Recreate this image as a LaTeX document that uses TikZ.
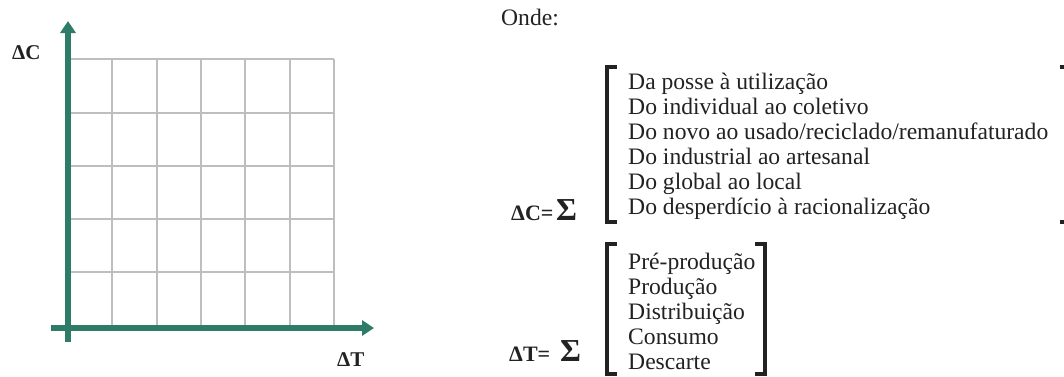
\documentclass[tikz,border=0pt]{standalone}
\usepackage{fontspec}
\setmainfont{Liberation Serif}
\usetikzlibrary{arrows.meta}
\definecolor{axisgreen}{HTML}{2E7B68}
\definecolor{gridgray}{HTML}{BEBEBE}
\definecolor{ink}{HTML}{222222}
\tikzset{
  gridline/.style={draw=gridgray, line width=2pt},
  axisline/.style={draw=axisgreen, line width=6pt, -{Triangle[width=15pt,length=12pt]}},
  axislabel/.style={font=\fontsize{21}{21}\selectfont\bfseries, text=ink, inner sep=0pt},
  itemtext/.style={font=\fontsize{23.6}{25}\selectfont, text=ink, inner sep=0pt, anchor=base west},
  eqlabel/.style={font=\fontsize{22}{22}\selectfont\bfseries, text=ink, inner sep=0pt, anchor=base west},
  sigma/.style={font=\fontsize{32}{32}\selectfont\bfseries, text=ink, inner sep=0pt, anchor=base west},
  bracketline/.style={draw=ink, line width=3.2pt, line join=miter, line cap=butt},
}
\begin{document}
\begin{tikzpicture}[x=1pt,y=-1pt]
\useasboundingbox (0,0) rectangle (1064,376);
\clip (0,0) rectangle (1064,376);
% grid
\foreach \i in {1,...,6} {
  \draw[gridline] ({68+44.33*\i},59.3) -- ({68+44.33*\i},328);
}
\foreach \j in {0,...,4} {
  \draw[gridline] (68,{59.3+53.2*\j}) -- (334,{59.3+53.2*\j});
}
% axes
\coordinate (ybot) at (68,342);
\coordinate (ytip) at (68,21);
\coordinate (xleft) at (51,328);
\coordinate (xtip) at (374,328);
\draw[axisline] (ybot) -- (ytip);
\draw[axisline] (xleft) -- (xtip);
\node[axislabel, anchor=west] (dc) at (12,53) {ΔC};
\node[axislabel, anchor=west] (dt) at (337,360) {ΔT};
% Onde
\node[itemtext] (onde) at (501,25) {Onde:};
% group C
\node[itemtext] (c1) at (628,89) {Da posse à utilização};
\node[itemtext] (c2) at (628,114) {Do individual ao coletivo};
\node[itemtext] (c3) at (628,139) {Do novo ao usado/reciclado/remanufaturado};
\node[itemtext] (c4) at (628,164) {Do industrial ao artesanal};
\node[itemtext] (c5) at (628,189) {Do global ao local};
\node[itemtext] (c6) at (628,214) {Do desperdício à racionalização};
\node[eqlabel] (ceq) at (511,220) {ΔC=};
\node[sigma] (csig) at (556,220) {Σ};
\draw[bracketline] (617,67) -- (607,67) -- (607,222) -- (617,222);
\draw[bracketline] (1060,67) -- (1066,67) -- (1066,222) -- (1060,222);
% group T
\node[itemtext] (t1) at (628,269) {Pré-produção};
\node[itemtext] (t2) at (628,294) {Produção};
\node[itemtext] (t3) at (628,319) {Distribuição};
\node[itemtext] (t4) at (628,344) {Consumo};
\node[itemtext] (t5) at (628,369) {Descarte};
\node[eqlabel] (teq) at (509,361) {ΔT=};
\node[sigma] (tsig) at (560,361) {Σ};
\draw[bracketline] (617,244) -- (607,244) -- (607,374) -- (617,374);
\draw[bracketline] (755,244) -- (765,244) -- (765,374) -- (755,374);
\end{tikzpicture}
\end{document}
